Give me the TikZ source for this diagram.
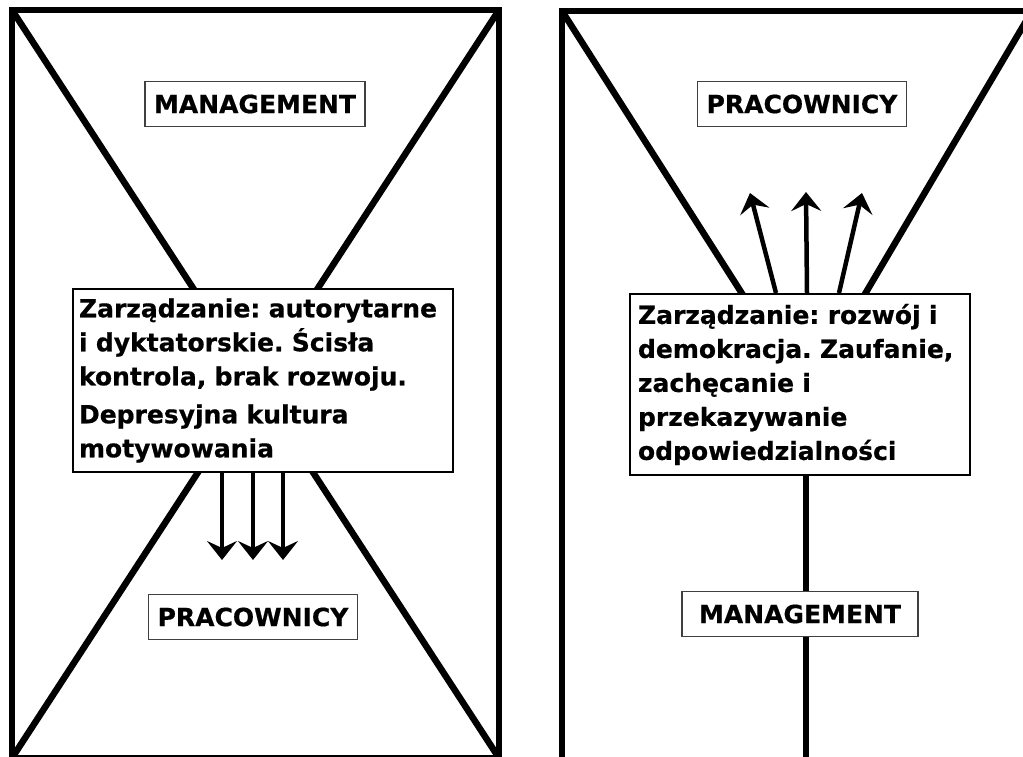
\documentclass[tikz,border=0pt]{standalone}
\usepackage{fontspec}
\setmainfont[BoldFeatures={FakeBold=0.6}]{DejaVu Sans}
\usetikzlibrary{arrows.meta}
\frenchspacing
\hyphenpenalty=10000

\tikzset{
  panelline/.style={line width=6.5pt},
  namebox/.style={draw=black!75, line width=1.3pt, fill=white,
    font=\bfseries\fontsize{25}{30}\selectfont, inner xsep=9pt, minimum height=45pt},
  textbox/.style={draw, line width=2pt, fill=white,
    font=\bfseries\fontsize{25}{34}\selectfont, align=left, anchor=north west},
  arr/.style={line width=4.5pt, -{Stealth[length=19pt,width=30pt,inset=7pt]}},
}

\begin{document}
\begin{tikzpicture}[x=1pt, y=-1pt]
  \useasboundingbox (0,0) rectangle (1023,757);
  % left panel: X
  \coordinate (lnw) at (12,10);
  \coordinate (lne) at (499,10);
  \coordinate (lsw) at (12,758);
  \coordinate (lse) at (499,758);
  \draw[panelline] (lnw) rectangle (lse);
  \draw[panelline] (lnw) -- (lse);
  \draw[panelline] (lne) -- (lsw);
  % right panel: Y
  \coordinate (rnw) at (562,11);
  \coordinate (rne) at (1032,11);
  \coordinate (rse) at (1032,760);
  \coordinate (rmid) at (806,394);
  \coordinate (rbot) at (806,760);
  \draw[panelline] (rnw) rectangle (rse);
  \draw[panelline] (rnw) -- (rmid) -- (rne);
  \draw[panelline] (rmid) -- (rbot);

  \node[namebox] (lman) at (255,104) {MANAGEMENT};
  \node[namebox] (lprac) at (253,617) {PRACOWNICY};
  \node[textbox, text width=368pt, inner xsep=6pt, minimum height=183pt] (lbox) at (72,288)
    {Zarządzanie: autorytarne\\
     i dyktatorskie. Ścisła\\
     kontrola, brak rozwoju.\\[4pt]
     Depresyjna kultura\\
     motywowania};

  \node[namebox] (rprac) at (802,104) {PRACOWNICY};
  \node[namebox, minimum width=236pt] (rman) at (800,614) {MANAGEMENT};
  \node[textbox, text width=324pt, inner xsep=8pt, minimum height=181pt] (rbox) at (629,293)
    {Zarządzanie: rozwój i\\
     demokracja. Zaufanie,\\
     zachęcanie i\\
     przekazywanie\\
     odpowiedzialności};

  % arrows down (left) and up (right)
  \foreach \x [count=\i] in {222,253,283}
    \coordinate (ltip\i) at (\x,560);
  \foreach \i in {1,2,3}
    \draw[arr] (ltip\i |- lbox.south) -- (ltip\i);

  \coordinate (rtip1) at (750,193);
  \coordinate (rtip2) at (806,192);
  \coordinate (rtip3) at (862,193);
  \draw[arr] ([xshift=-24pt]rbox.north) -- (rtip1);
  \draw[arr] ([xshift=7pt]rbox.north) -- (rtip2);
  \draw[arr] ([xshift=39pt]rbox.north) -- (rtip3);
\end{tikzpicture}
\end{document}
